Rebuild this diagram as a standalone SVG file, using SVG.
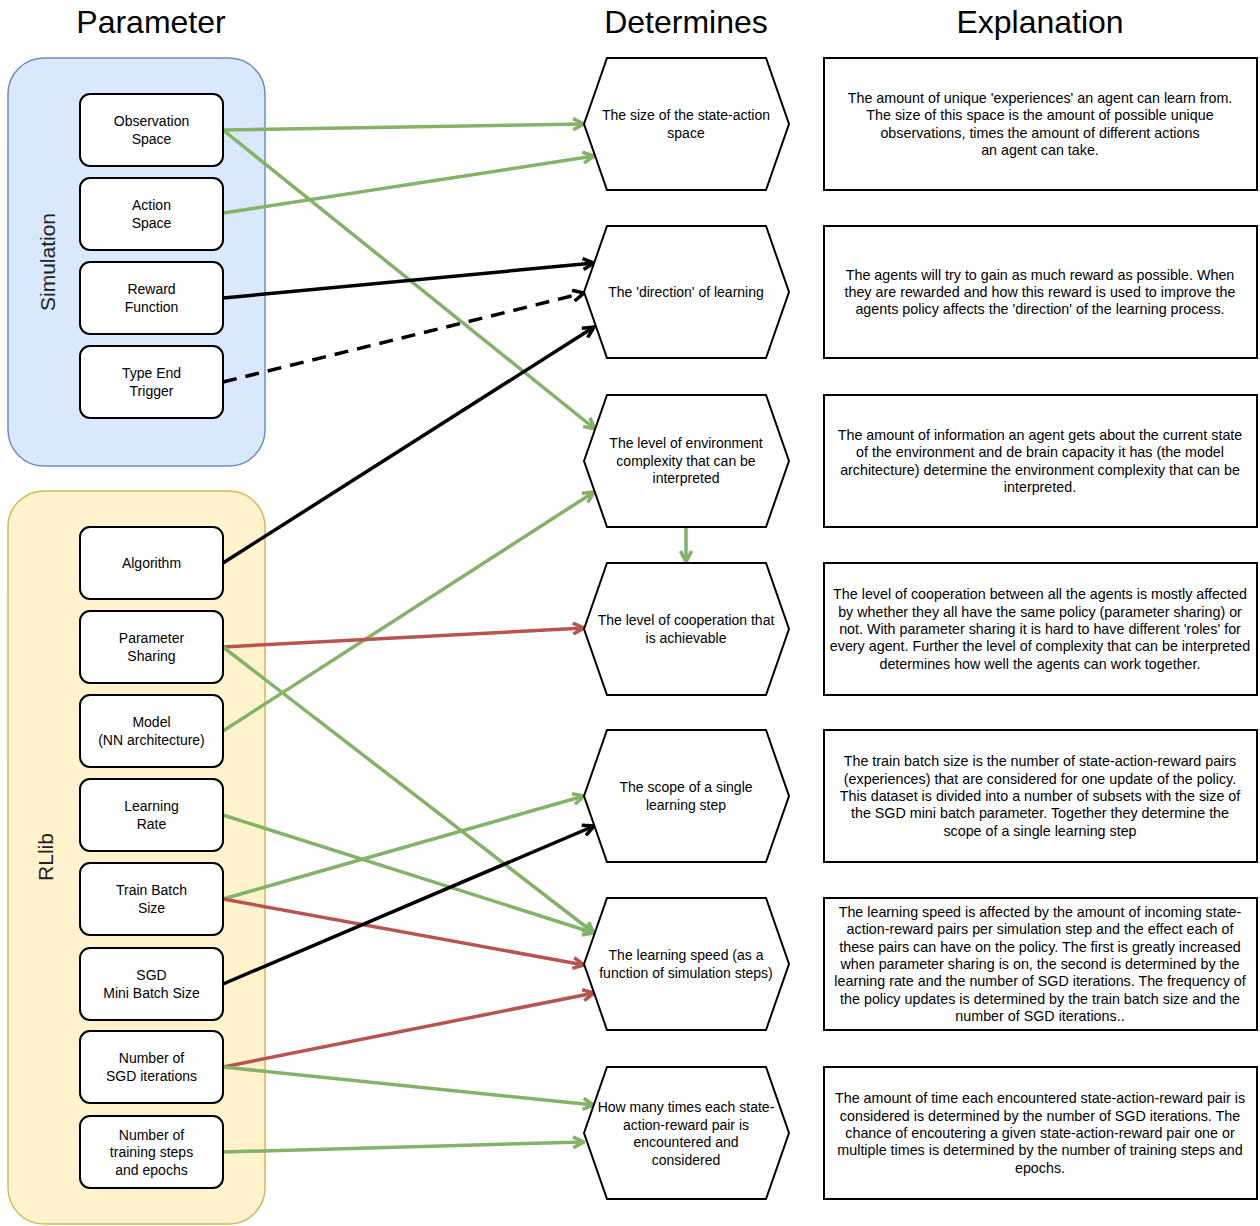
<svg xmlns="http://www.w3.org/2000/svg" width="1260" height="1226" viewBox="0 0 1260 1226">
<style>
text{font-family:"Liberation Sans",Arial,sans-serif;fill:#000}
.hdr{font-size:32px;text-anchor:middle}
.grp{font-size:21px;text-anchor:middle;fill:#222}
.nt{font-size:14px;text-anchor:middle}
.xt{font-size:14.3px;text-anchor:middle}
.box{fill:#fff;stroke:#000;stroke-width:2}
.hex{fill:#fff;stroke:#000;stroke-width:2}
.e{fill:none;stroke-width:3.5}
.g{stroke:#82b366}
.r{stroke:#b85450}
.k{stroke:#000}
</style>
<defs>
<marker id="ag" viewBox="0 0 14 14" refX="12.5" refY="7" markerWidth="14" markerHeight="14" markerUnits="userSpaceOnUse" orient="auto"><path d="M1.5,1.5 L12.5,7 L1.5,12.5" fill="none" stroke="#82b366" stroke-width="3.5"/></marker>
<marker id="ar" viewBox="0 0 14 14" refX="12.5" refY="7" markerWidth="14" markerHeight="14" markerUnits="userSpaceOnUse" orient="auto"><path d="M1.5,1.5 L12.5,7 L1.5,12.5" fill="none" stroke="#b85450" stroke-width="3.5"/></marker>
<marker id="ak" viewBox="0 0 14 14" refX="12.5" refY="7" markerWidth="14" markerHeight="14" markerUnits="userSpaceOnUse" orient="auto"><path d="M1.5,1.5 L12.5,7 L1.5,12.5" fill="none" stroke="#000" stroke-width="3.5"/></marker>
</defs>

<g id="headers">
<text class="hdr" x="151" y="33">Parameter</text>
<text class="hdr" x="686" y="33">Determines</text>
<text class="hdr" x="1040" y="33">Explanation</text>
</g>

<g id="simulation">
<rect x="8" y="58" width="257" height="408" rx="36" fill="#dae8fc" stroke="#6c8ebf" stroke-width="1.5"/>
<text class="grp" transform="translate(55,262) rotate(-90)">Simulation</text>
</g>
<g id="rllib">
<rect x="8" y="491" width="257" height="733" rx="36" fill="#fff2cc" stroke="#d6b656" stroke-width="1.5"/>
<text class="grp" transform="translate(53,857) rotate(-90)">RLlib</text>
</g>

<g id="connectors">
<line class="e g" x1="223" y1="130" x2="584" y2="124" marker-end="url(#ag)"/>
<line class="e g" x1="223" y1="213" x2="594" y2="156" marker-end="url(#ag)"/>
<line class="e g" x1="223" y1="130" x2="595" y2="429" marker-end="url(#ag)"/>
<line class="e k" x1="223" y1="298" x2="594" y2="263" marker-end="url(#ak)"/>
<line class="e k" x1="223" y1="382" x2="584" y2="293" stroke-dasharray="14 9" marker-end="url(#ak)"/>
<line class="e k" x1="223" y1="563" x2="594" y2="327" marker-end="url(#ak)"/>
<line class="e g" x1="223" y1="731" x2="594" y2="492" marker-end="url(#ag)"/>
<line class="e g" x1="686" y1="527" x2="686" y2="562" marker-end="url(#ag)"/>
<line class="e r" x1="223" y1="647" x2="584" y2="628" marker-end="url(#ar)"/>
<line class="e g" x1="223" y1="647" x2="594" y2="933" marker-end="url(#ag)"/>
<line class="e g" x1="223" y1="815" x2="594" y2="933" marker-end="url(#ag)"/>
<line class="e g" x1="223" y1="899" x2="584" y2="796" marker-end="url(#ag)"/>
<line class="e r" x1="223" y1="899" x2="584" y2="965" marker-end="url(#ar)"/>
<line class="e k" x1="223" y1="984" x2="594" y2="826" marker-end="url(#ak)"/>
<line class="e r" x1="223" y1="1067" x2="594" y2="993" marker-end="url(#ar)"/>
<line class="e g" x1="223" y1="1067" x2="594" y2="1105" marker-end="url(#ag)"/>
<line class="e g" x1="223" y1="1152" x2="584" y2="1142" marker-end="url(#ag)"/>
</g>

<g id="n-observation"><rect class="box" x="80" y="94" width="143" height="72" rx="10"/><text class="nt" x="151.5" y="126">Observation<tspan x="151.5" dy="18">Space</tspan></text></g>
<g id="n-action"><rect class="box" x="80" y="178" width="143" height="72" rx="10"/><text class="nt" x="151.5" y="210">Action<tspan x="151.5" dy="18">Space</tspan></text></g>
<g id="n-reward"><rect class="box" x="80" y="262" width="143" height="72" rx="10"/><text class="nt" x="151.5" y="294">Reward<tspan x="151.5" dy="18">Function</tspan></text></g>
<g id="n-endtrigger"><rect class="box" x="80" y="346" width="143" height="72" rx="10"/><text class="nt" x="151.5" y="378">Type End<tspan x="151.5" dy="18">Trigger</tspan></text></g>
<g id="n-algorithm"><rect class="box" x="80" y="527" width="143" height="72" rx="10"/><text class="nt" x="151.5" y="568">Algorithm</text></g>
<g id="n-paramsharing"><rect class="box" x="80" y="611" width="143" height="72" rx="10"/><text class="nt" x="151.5" y="643">Parameter<tspan x="151.5" dy="18">Sharing</tspan></text></g>
<g id="n-model"><rect class="box" x="80" y="695" width="143" height="72" rx="10"/><text class="nt" x="151.5" y="727">Model<tspan x="151.5" dy="18">(NN architecture)</tspan></text></g>
<g id="n-lr"><rect class="box" x="80" y="779" width="143" height="72" rx="10"/><text class="nt" x="151.5" y="811">Learning<tspan x="151.5" dy="18">Rate</tspan></text></g>
<g id="n-trainbatch"><rect class="box" x="80" y="863" width="143" height="72" rx="10"/><text class="nt" x="151.5" y="894.5">Train Batch<tspan x="151.5" dy="18">Size</tspan></text></g>
<g id="n-minibatch"><rect class="box" x="80" y="948" width="143" height="72" rx="10"/><text class="nt" x="151.5" y="980">SGD<tspan x="151.5" dy="18">Mini Batch Size</tspan></text></g>
<g id="n-sgditer"><rect class="box" x="80" y="1031" width="143" height="72" rx="10"/><text class="nt" x="151.5" y="1063">Number of<tspan x="151.5" dy="18">SGD iterations</tspan></text></g>
<g id="n-trainsteps"><rect class="box" x="80" y="1116" width="143" height="72" rx="10"/><text class="nt" x="151.5" y="1139.5">Number of<tspan x="151.5" dy="17.5">training steps</tspan><tspan x="151.5" dy="17.5">and epochs</tspan></text></g>

<g id="h-stateaction"><polygon class="hex" points="584,124 607,58 766,58 789,124 766,190 607,190"/><text class="nt" x="686" y="120">The size of the state-action<tspan x="686" dy="17.5">space</tspan></text></g>
<g id="h-direction"><polygon class="hex" points="584,292 607,226 766,226 789,292 766,358 607,358"/><text class="nt" x="686" y="297">The 'direction' of learning</text></g>
<g id="h-complexity"><polygon class="hex" points="584,461 607,395 766,395 789,461 766,527 607,527"/><text class="nt" x="686" y="448">The level of environment<tspan x="686" dy="17.5">complexity that can be</tspan><tspan x="686" dy="17.5">interpreted</tspan></text></g>
<g id="h-cooperation"><polygon class="hex" points="584,629 607,563 766,563 789,629 766,695 607,695"/><text class="nt" x="686" y="625">The level of cooperation that<tspan x="686" dy="17.5">is achievable</tspan></text></g>
<g id="h-scope"><polygon class="hex" points="584,796 607,730 766,730 789,796 766,862 607,862"/><text class="nt" x="686" y="792">The scope of a single<tspan x="686" dy="17.5">learning step</tspan></text></g>
<g id="h-speed"><polygon class="hex" points="584,964 607,898 766,898 789,964 766,1030 607,1030"/><text class="nt" x="686" y="960">The learning speed (as a<tspan x="686" dy="17.5">function of simulation steps)</tspan></text></g>
<g id="h-times"><polygon class="hex" points="584,1133 607,1067 766,1067 789,1133 766,1199 607,1199"/><text class="nt" x="686" y="1112">How many times each state-<tspan x="686" dy="17.5">action-reward pair is</tspan><tspan x="686" dy="17.5">encountered and</tspan><tspan x="686" dy="17.5">considered</tspan></text></g>

<g id="x-stateaction"><rect class="box" x="824" y="58" width="433" height="132"/><text class="xt" x="1040" y="103">The amount of unique 'experiences' an agent can learn from.<tspan x="1040" dy="17.3">The size of this space is the amount of possible unique</tspan><tspan x="1040" dy="17.3">observations, times the amount of different actions</tspan><tspan x="1040" dy="17.3">an agent can take.</tspan></text></g>
<g id="x-direction"><rect class="box" x="824" y="226" width="433" height="132"/><text class="xt" x="1040" y="279.7">The agents will try to gain as much reward as possible. When<tspan x="1040" dy="17.3">they are rewarded and how this reward is used to improve the</tspan><tspan x="1040" dy="17.3">agents policy affects the 'direction' of the learning process.</tspan></text></g>
<g id="x-complexity"><rect class="box" x="824" y="395" width="433" height="132"/><text class="xt" x="1040" y="440">The amount of information an agent gets about the current state<tspan x="1040" dy="17.3">of the environment and de brain capacity it has (the model</tspan><tspan x="1040" dy="17.3">architecture) determine the environment complexity that can be</tspan><tspan x="1040" dy="17.3">interpreted.</tspan></text></g>
<g id="x-cooperation"><rect class="box" x="824" y="563" width="433" height="132"/><text class="xt" x="1040" y="599.4">The level of cooperation between all the agents is mostly affected<tspan x="1040" dy="17.3">by whether they all have the same policy (parameter sharing) or</tspan><tspan x="1040" dy="17.3">not. With parameter sharing it is hard to have different 'roles' for</tspan><tspan x="1040" dy="17.3">every agent. Further the level of complexity that can be interpreted</tspan><tspan x="1040" dy="17.3">determines how well the agents can work together.</tspan></text></g>
<g id="x-scope"><rect class="box" x="824" y="730" width="433" height="132"/><text class="xt" x="1040" y="766.4">The train batch size is the number of state-action-reward pairs<tspan x="1040" dy="17.3">(experiences) that are considered for one update of the policy.</tspan><tspan x="1040" dy="17.3">This dataset is divided into a number of subsets with the size of</tspan><tspan x="1040" dy="17.3">the SGD mini batch parameter. Together they determine the</tspan><tspan x="1040" dy="17.3">scope of a single learning step</tspan></text></g>
<g id="x-speed"><rect class="box" x="824" y="898" width="433" height="132"/><text class="xt" x="1040" y="917.1">The learning speed is affected by the amount of incoming state-<tspan x="1040" dy="17.3">action-reward pairs per simulation step and the effect each of</tspan><tspan x="1040" dy="17.3">these pairs can have on the policy. The first is greatly increased</tspan><tspan x="1040" dy="17.3">when parameter sharing is on, the second is determined by the</tspan><tspan x="1040" dy="17.3">learning rate and the number of SGD iterations. The frequency of</tspan><tspan x="1040" dy="17.3">the policy updates is determined by the train batch size and the</tspan><tspan x="1040" dy="17.3">number of SGD iterations..</tspan></text></g>
<g id="x-times"><rect class="box" x="824" y="1067" width="433" height="132"/><text class="xt" x="1040" y="1103.4">The amount of time each encountered state-action-reward pair is<tspan x="1040" dy="17.3">considered is determined by the number of SGD iterations. The</tspan><tspan x="1040" dy="17.3">chance of encoutering a given state-action-reward pair one or</tspan><tspan x="1040" dy="17.3">multiple times is determined by the number of training steps and</tspan><tspan x="1040" dy="17.3">epochs.</tspan></text></g>
</svg>
